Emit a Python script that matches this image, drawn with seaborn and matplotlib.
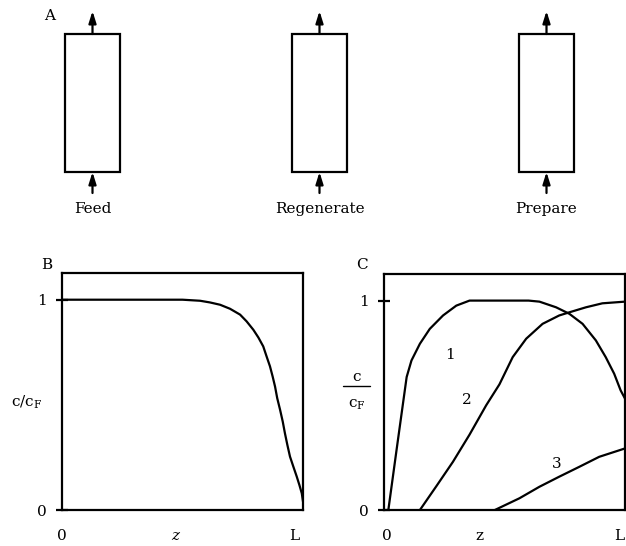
import numpy as np
import pandas as pd
import matplotlib
matplotlib.use("Agg")
import matplotlib.pyplot as plt
import seaborn as sns

# Operating steps of the column (panel A)
steps = ["Feed", "Regenerate", "Prepare"]

# Panel B: concentration profile along the bed after feeding
b_z = [0.0, 0.50, 0.573, 0.614, 0.656, 0.697, 0.739, 0.766, 0.794, 0.815,
       0.835, 0.849, 0.863, 0.874, 0.884, 0.893, 0.905, 0.916, 0.925, 0.935,
       0.946, 0.96, 0.974, 0.985, 0.995, 1.0]
b_c = [1.0, 1.0, 0.995, 0.987, 0.976, 0.957, 0.929, 0.897, 0.857, 0.82,
       0.778, 0.73, 0.683, 0.635, 0.587, 0.532, 0.476, 0.42, 0.365, 0.31,
       0.254, 0.206, 0.159, 0.119, 0.079, 0.04]

# Panel C: profiles during regeneration (curves 1, 2, 3)
c1_z = [0.018, 0.052, 0.094, 0.114, 0.149, 0.19, 0.245, 0.30, 0.355, 0.60,
        0.645, 0.714, 0.769, 0.824, 0.879, 0.92, 0.955, 0.982, 1.0]
c1_c = [0.0, 0.286, 0.635, 0.714, 0.794, 0.865, 0.929, 0.976, 1.0, 1.0,
        0.995, 0.968, 0.937, 0.889, 0.81, 0.73, 0.651, 0.571, 0.532]
c2_z = [0.149, 0.218, 0.286, 0.355, 0.424, 0.479, 0.534, 0.59, 0.658, 0.727,
        0.769, 0.838, 0.906, 1.0]
c2_c = [0.0, 0.115, 0.23, 0.36, 0.50, 0.60, 0.73, 0.818, 0.889, 0.929,
        0.944, 0.968, 0.987, 0.995]
c3_z = [0.46, 0.562, 0.645, 0.727, 0.81, 0.893, 1.0]
c3_c = [0.0, 0.056, 0.111, 0.159, 0.206, 0.254, 0.294]
curve_names = ["1", "2", "3"]

sns.set_theme(style="white")
plt.rcParams["font.family"] = ["DejaVu Serif"]
plt.rcParams["mathtext.fontset"] = "dejavuserif"
for key in ("text.color", "axes.labelcolor", "xtick.color", "ytick.color",
            "axes.edgecolor"):
    plt.rcParams[key] = "black"

W, H = 626, 546
fig = plt.figure(figsize=(W / 100, H / 100), dpi=100)
fig.patch.set_facecolor("white")


def px_axes(x0, y0, x1, y1):
    """Axes placed by pixel box (top-left origin)."""
    return fig.add_axes([x0 / W, 1 - y1 / H, (x1 - x0) / W, (y1 - y0) / H])


LW = 1.6
FS = 11

# ---------------- Panel A: column schematics ----------------
ax_a = px_axes(0, 0, W, 240)
unit = 227.0
ax_a.set_xlim(-92.5 / unit, (W - 92.5) / unit)
ax_a.set_ylim(240, 0)
ax_a.axis("off")
xpos = np.arange(len(steps))
ax_a.bar(xpos, 172 - 34, bottom=34, width=55 / unit, fill=False,
         edgecolor="black", linewidth=LW)
for i, name in zip(xpos, steps):
    arrow = dict(arrowstyle="-|>,head_length=0.7,head_width=0.22", lw=LW,
                 color="black", mutation_scale=10, shrinkA=0, shrinkB=0)
    ax_a.annotate("", xy=(i, 11), xytext=(i, 34), arrowprops=arrow)
    ax_a.annotate("", xy=(i, 172), xytext=(i, 193), arrowprops=arrow)
    ax_a.text(i, 209, name, ha="center", va="center", fontsize=FS)
fig.text(50 / W, 1 - 16 / H, "A", ha="center", va="center", fontsize=FS)

# ---------------- Panel B ----------------
ax_b = px_axes(62, 273, 303, 510)
df_b = pd.DataFrame({"z": b_z, "c": b_c})
sns.lineplot(data=df_b, x="z", y="c", ax=ax_b, color="black", lw=LW,
             sort=False, estimator=None)

# ---------------- Panel C ----------------
ax_c = px_axes(384, 274, 625, 510)
df_c = pd.concat([
    pd.DataFrame({"z": z, "c": c, "curve": n})
    for z, c, n in zip([c1_z, c2_z, c3_z], [c1_c, c2_c, c3_c], curve_names)
])
sns.lineplot(data=df_c, x="z", y="c", hue="curve", units="curve",
             palette=["black"] * 3, ax=ax_c, lw=LW, sort=False,
             estimator=None, legend=False)
label_pos = {"1": (0.273, 0.738), "2": (0.344, 0.527), "3": (0.716, 0.222)}
for n in curve_names:
    ax_c.text(*label_pos[n], n, ha="center", va="center", fontsize=FS)

for ax, xt in ((ax_b, [0, 0.47, 0.965]), (ax_c, [0.012, 0.397, 0.975])):
    ax.set_xlim(0, 1)
    ax.set_ylim(0, 1.127)
    for s in ax.spines.values():
        s.set_visible(True)
        s.set_color("black")
        s.set_linewidth(LW)
    ax.set_yticks([0, 1])
    ax.set_yticklabels(["0", "1"], fontsize=FS)
    ax.tick_params(axis="y", direction="inout", length=8, width=LW, pad=7,
                   colors="black", left=True)
    ax.set_xticks(xt)
    ax.set_xticklabels(["0", "z", "L"], fontsize=FS)
    ax.tick_params(axis="x", length=0, pad=14, colors="black")
    ax.set_xlabel("")
    ax.set_ylabel("")
    ax.set_facecolor("white")
ax_b.get_xticklabels()[1].set_style("italic")

# axis labels
ax_b.text(-0.145, 0.455, r"c/c$_\mathrm{F}$", transform=ax_b.transAxes,
          ha="center", va="center", fontsize=FS)
ax_c.text(-0.113, 0.565, "c", transform=ax_c.transAxes, ha="center",
          va="center", fontsize=FS)
ax_c.plot([-0.17, -0.058], [0.527, 0.527], transform=ax_c.transAxes,
          color="black", lw=1.0, clip_on=False)
ax_c.text(-0.113, 0.445, r"c$_\mathrm{F}$", transform=ax_c.transAxes,
          ha="center", va="center", fontsize=FS)

fig.text(47 / W, 1 - 265 / H, "B", ha="center", va="center", fontsize=FS)
fig.text(362 / W, 1 - 265 / H, "C", ha="center", va="center", fontsize=FS)

fig.savefig("out.png", dpi=100, facecolor="white")
